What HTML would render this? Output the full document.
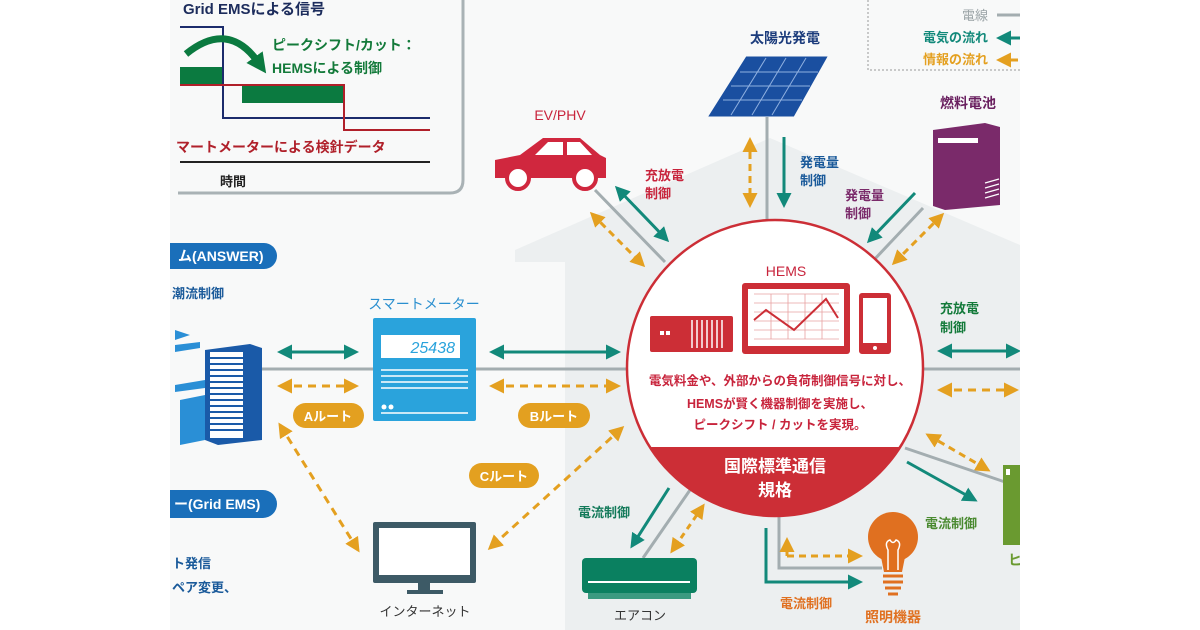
<!DOCTYPE html>
<html><head><meta charset="utf-8"><style>
html,body{margin:0;padding:0;background:#fff;}
svg{display:block;font-family:"Liberation Sans","Noto Sans CJK JP",sans-serif;font-weight:bold;}
</style></head><body>
<svg width="1200" height="630" viewBox="0 0 1200 630" xmlns="http://www.w3.org/2000/svg">
<defs>
<marker id="tt" viewBox="0 0 10 10" refX="8" refY="5" markerWidth="5" markerHeight="5" orient="auto-start-reverse"><path d="M0,0 L10,5 L0,10 z" fill="#12897a"/></marker>
<marker id="oo" viewBox="0 0 10 10" refX="8" refY="5" markerWidth="5" markerHeight="5" orient="auto-start-reverse"><path d="M0,0 L10,5 L0,10 z" fill="#e4a020"/></marker>
<marker id="gg" viewBox="0 0 10 10" refX="3" refY="5" markerWidth="20" markerHeight="20" markerUnits="userSpaceOnUse" orient="auto"><path d="M0,0 L10,5 L0,10 z" fill="#0b7a40"/></marker>
</defs>
<rect x="170" y="0" width="850" height="630" fill="#f8f9f9"/>
<path d="M515,250 L770,138 L1020,245 L1020,630 L565,630 L565,262 L515,262 Z" fill="#eceff0"/>
<path d="M178,193 L450,193 Q463,193 463,180 L463,0" fill="none" stroke="#a9b2b5" stroke-width="3"/>
<text x="183" y="14" font-size="15" fill="#1c2c5c">Grid EMSによる信号</text>
<rect x="180" y="67" width="43" height="18" fill="#0b7a40"/>
<rect x="242" y="85" width="101" height="18" fill="#0b7a40"/>
<path d="M180,27 H223 V118 H430" fill="none" stroke="#1c2c6c" stroke-width="2"/>
<path d="M180,85 H344 V130 H430" fill="none" stroke="#b0202a" stroke-width="2"/>
<path d="M186,54 Q228,20 258,62" fill="none" stroke="#0b7a40" stroke-width="7" marker-end="url(#gg)"/>
<text x="272" y="50" font-size="14" fill="#137a3a">ピークシフト/カット：</text>
<text x="272" y="73" font-size="14" fill="#137a3a">HEMSによる制御</text>
<text x="176" y="152" font-size="14" fill="#b0202a">マートメーターによる検針データ</text>
<line x1="180" y1="162" x2="430" y2="162" stroke="#222" stroke-width="2"/>
<text x="220" y="186" font-size="13" fill="#222">時間</text>
<rect x="150" y="243" width="127" height="26" rx="13" fill="#1a6fba"/>
<text x="178" y="261" font-size="14" fill="#fff">ム(ANSWER)</text>
<text x="172" y="298" font-size="13" fill="#1a5a9a">潮流制御</text>
<rect x="150" y="490" width="127" height="28" rx="14" fill="#1a6fba"/>
<text x="174" y="509" font-size="14" fill="#fff">ー(Grid EMS)</text>
<text x="172" y="568" font-size="13" fill="#1a5a9a">ト発信</text>
<text x="172" y="592" font-size="13" fill="#1a5a9a">ペア変更、</text>
<path d="M175,330 L190,335 L175,340Z M175,345 L200,342 L200,348 L175,352Z M175,385 L205,380 L205,388 L175,392Z M180,400 L205,395 L205,440 L180,445Z" fill="#2a8fd6"/>
<path d="M205,350 L250,344 L262,348 L262,440 L218,445 L205,440Z" fill="#1a5aa8"/>
<rect x="210" y="352" width="33" height="86" fill="#fff"/>
<g stroke="#1a5aa8" stroke-width="2"><line x1="210" y1="358" x2="243" y2="358"/><line x1="210" y1="364" x2="243" y2="364"/><line x1="210" y1="370" x2="243" y2="370"/><line x1="210" y1="376" x2="243" y2="376"/><line x1="210" y1="382" x2="243" y2="382"/><line x1="210" y1="388" x2="243" y2="388"/><line x1="210" y1="394" x2="243" y2="394"/><line x1="210" y1="400" x2="243" y2="400"/><line x1="210" y1="406" x2="243" y2="406"/><line x1="210" y1="412" x2="243" y2="412"/><line x1="210" y1="418" x2="243" y2="418"/><line x1="210" y1="424" x2="243" y2="424"/><line x1="210" y1="430" x2="243" y2="430"/></g>
<line x1="262" y1="369" x2="630" y2="369" stroke="#a3adb0" stroke-width="3"/>
<line x1="922" y1="369" x2="1020" y2="369" stroke="#a3adb0" stroke-width="3"/>
<text x="424" y="309" font-size="14" fill="#2a8fcf" text-anchor="middle" font-weight="normal">スマートメーター</text>
<rect x="373" y="318" width="103" height="103" rx="2" fill="#2aa3dc"/>
<rect x="381" y="335" width="79" height="23" fill="#fff"/>
<text x="455" y="353" font-size="16" fill="#2aa3dc" text-anchor="end" font-weight="normal" font-style="italic">25438</text>
<g stroke="#fff" stroke-width="1.5"><line x1="381" y1="370" x2="468" y2="370"/><line x1="381" y1="376" x2="468" y2="376"/><line x1="381" y1="382" x2="468" y2="382"/><line x1="381" y1="388" x2="468" y2="388"/><line x1="381" y1="413" x2="468" y2="413"/></g>
<circle cx="384" cy="407" r="2.5" fill="#fff"/><circle cx="391" cy="407" r="2.5" fill="#fff"/>
<g stroke="#12897a" stroke-width="3"><line x1="280" y1="352" x2="356" y2="352" marker-start="url(#tt)" marker-end="url(#tt)"/><line x1="492" y1="352" x2="618" y2="352" marker-start="url(#tt)" marker-end="url(#tt)"/><line x1="940" y1="351" x2="1018" y2="351" marker-start="url(#tt)" marker-end="url(#tt)"/></g>
<g stroke="#e4a020" stroke-width="3" stroke-dasharray="8,6"><line x1="280" y1="386" x2="356" y2="386" marker-start="url(#oo)" marker-end="url(#oo)"/><line x1="492" y1="386" x2="618" y2="386" marker-start="url(#oo)" marker-end="url(#oo)"/><line x1="940" y1="390" x2="1016" y2="390" marker-start="url(#oo)" marker-end="url(#oo)"/>
<line x1="280" y1="425" x2="358" y2="550" marker-start="url(#oo)" marker-end="url(#oo)"/>
<line x1="622" y1="428" x2="490" y2="548" marker-start="url(#oo)" marker-end="url(#oo)"/></g>
<rect x="293" y="403" width="71" height="25" rx="12.5" fill="#e3a020"/><text x="328" y="421" font-size="13" fill="#fff" text-anchor="middle">Aルート</text>
<rect x="518" y="403" width="72" height="25" rx="12.5" fill="#e3a020"/><text x="554" y="421" font-size="13" fill="#fff" text-anchor="middle">Bルート</text>
<rect x="469" y="463" width="70" height="25" rx="12.5" fill="#e3a020"/><text x="504" y="481" font-size="13" fill="#fff" text-anchor="middle">Cルート</text>
<rect x="373" y="522" width="103" height="61" rx="2" fill="#3d5a66"/><rect x="379" y="528" width="91" height="47" fill="#fff"/>
<rect x="418" y="583" width="12" height="8" fill="#3d5a66"/><rect x="407" y="590" width="36" height="4" fill="#3d5a66"/>
<text x="425" y="616" font-size="13" fill="#333" text-anchor="middle" font-weight="normal">インターネット</text>
<text x="785" y="43" font-size="14" fill="#1c3c7c" text-anchor="middle">太陽光発電</text>
<path d="M747,58 L825,58 L793,115 L711,115Z" fill="#1a4fa0" stroke="#1a4fa0" stroke-width="3"/>
<g stroke="#8fb0e0" stroke-width="1"><line x1="740" y1="72" x2="818" y2="72"/><line x1="731" y1="86" x2="810" y2="86"/><line x1="723" y1="100" x2="802" y2="100"/><line x1="766" y1="58" x2="731" y2="115"/><line x1="786" y1="58" x2="752" y2="115"/><line x1="806" y1="58" x2="772" y2="115"/></g>
<line x1="767" y1="117" x2="767" y2="222" stroke="#a3adb0" stroke-width="3"/>
<line x1="750" y1="140" x2="750" y2="205" stroke="#e4a020" stroke-width="3" stroke-dasharray="7,5" marker-start="url(#oo)" marker-end="url(#oo)"/>
<line x1="784" y1="137" x2="784" y2="205" stroke="#12897a" stroke-width="3" marker-end="url(#tt)"/>
<text x="800" y="167" font-size="13" fill="#1a5a9a">発電量</text><text x="800" y="185" font-size="13" fill="#1a5a9a">制御</text>
<text x="560" y="120" font-size="14" fill="#c8243c" text-anchor="middle" font-weight="normal">EV/PHV</text>
<path d="M495,160 L520,155 L543,138 L580,138 L600,155 L606,158 L606,178 L495,178Z" fill="#d0273e"/>
<path d="M548,142 L563,142 L563,155 L535,155Z M567,142 L580,142 L592,155 L567,155Z" fill="#fff"/>
<circle cx="518" cy="178" r="11" fill="#fff" stroke="#d0273e" stroke-width="4"/><circle cx="585" cy="178" r="11" fill="#fff" stroke="#d0273e" stroke-width="4"/>
<line x1="595" y1="190" x2="665" y2="262" stroke="#a3adb0" stroke-width="3"/>
<line x1="617" y1="188" x2="667" y2="240" stroke="#12897a" stroke-width="3" marker-start="url(#tt)" marker-end="url(#tt)"/>
<line x1="592" y1="214" x2="643" y2="265" stroke="#e4a020" stroke-width="3" stroke-dasharray="7,5" marker-start="url(#oo)" marker-end="url(#oo)"/>
<text x="645" y="180" font-size="13" fill="#c8243c">充放電</text><text x="645" y="198" font-size="13" fill="#c8243c">制御</text>
<text x="968" y="108" font-size="14" fill="#6a2060" text-anchor="middle">燃料電池</text>
<path d="M933,130 L985,123 L1000,127 L1000,205 L945,210 L933,206Z" fill="#7a2a6a"/>
<rect x="938" y="138" width="40" height="5" fill="#fff"/>
<g stroke="#fff" stroke-width="1.2"><line x1="985" y1="183" x2="999" y2="179"/><line x1="985" y1="188" x2="999" y2="184"/><line x1="985" y1="193" x2="999" y2="189"/><line x1="985" y1="198" x2="999" y2="194"/></g>
<line x1="923" y1="208" x2="872" y2="262" stroke="#a3adb0" stroke-width="3"/>
<line x1="915" y1="193" x2="869" y2="241" stroke="#12897a" stroke-width="3" marker-end="url(#tt)"/>
<line x1="942" y1="215" x2="894" y2="263" stroke="#e4a020" stroke-width="3" stroke-dasharray="7,5" marker-start="url(#oo)" marker-end="url(#oo)"/>
<text x="845" y="200" font-size="13" fill="#7a2a6a">発電量</text><text x="845" y="218" font-size="13" fill="#7a2a6a">制御</text>
<text x="940" y="313" font-size="13" fill="#137a3a">充放電</text><text x="940" y="332" font-size="13" fill="#137a3a">制御</text>
<line x1="928" y1="435" x2="988" y2="470" stroke="#e4a020" stroke-width="3" stroke-dasharray="7,5" marker-start="url(#oo)" marker-end="url(#oo)"/>
<line x1="905" y1="448" x2="1005" y2="482" stroke="#a3adb0" stroke-width="3"/>
<line x1="907" y1="462" x2="975" y2="500" stroke="#12897a" stroke-width="3" marker-end="url(#tt)"/>
<rect x="1003" y="465" width="17" height="80" fill="#6a9a30"/><rect x="1006" y="469" width="4" height="6" fill="#fff"/>
<text x="925" y="528" font-size="13" fill="#4a8a30">電流制御</text>
<text x="1008" y="565" font-size="14" fill="#6a9a30">ヒ</text>
<line x1="669" y1="488" x2="632" y2="546" stroke="#12897a" stroke-width="3" marker-end="url(#tt)"/>
<line x1="690" y1="490" x2="643" y2="558" stroke="#a3adb0" stroke-width="3"/>
<line x1="703" y1="506" x2="672" y2="551" stroke="#e4a020" stroke-width="3" stroke-dasharray="6,5" marker-start="url(#oo)" marker-end="url(#oo)"/>
<text x="578" y="517" font-size="13" fill="#137a5a">電流制御</text>
<rect x="582" y="558" width="115" height="35" rx="4" fill="#0a8060"/><rect x="588" y="593" width="103" height="6" fill="#3a9a80"/>
<line x1="588" y1="582" x2="690" y2="582" stroke="#fff" stroke-width="2"/>
<text x="640" y="620" font-size="13" fill="#333" text-anchor="middle" font-weight="normal">エアコン</text>
<path d="M779,517 V568 H882" fill="none" stroke="#a3adb0" stroke-width="3"/>
<path d="M766,528 V582 H860" fill="none" stroke="#12897a" stroke-width="3" marker-end="url(#tt)"/>
<path d="M787,556 H860" fill="none" stroke="#e4a020" stroke-width="3" stroke-dasharray="7,5" marker-end="url(#oo)"/>
<line x1="787" y1="556" x2="787" y2="540" stroke="#e4a020" stroke-width="3" stroke-dasharray="5,4" marker-end="url(#oo)"/>
<circle cx="893" cy="537" r="25" fill="#e07020"/><path d="M880,552 L906,552 L902,572 L884,572Z" fill="#e07020"/>
<path d="M888,570 L888,550 Q884,542 890,540 Q893,545 896,540 Q902,542 898,550 L898,570" fill="none" stroke="#fff" stroke-width="1.5"/>
<g stroke="#e07020" stroke-width="3"><line x1="883" y1="576" x2="903" y2="576"/><line x1="883" y1="582" x2="903" y2="582"/><line x1="885" y1="588" x2="901" y2="588"/><line x1="888" y1="594" x2="898" y2="594"/></g>
<text x="780" y="608" font-size="13" fill="#e07020">電流制御</text>
<text x="893" y="622" font-size="14" fill="#e07020" text-anchor="middle">照明機器</text>
<defs><clipPath id="cc"><circle cx="775" cy="368" r="148"/></clipPath></defs>
<circle cx="775" cy="368" r="148" fill="#fff"/>
<rect x="620" y="447" width="320" height="80" fill="#cc2e36" clip-path="url(#cc)"/>
<circle cx="775" cy="368" r="148" fill="none" stroke="#cc2e36" stroke-width="2.5"/>
<text x="786" y="276" font-size="14" fill="#c8243c" text-anchor="middle" font-weight="normal">HEMS</text>
<rect x="650" y="316" width="83" height="36" rx="2" fill="#cc2e36"/>
<rect x="660" y="331" width="4" height="4" fill="#fff"/><rect x="666" y="331" width="4" height="4" fill="#fff"/>
<g stroke="#fff" stroke-width="1.5"><line x1="692" y1="320" x2="692" y2="348"/><line x1="697" y1="320" x2="697" y2="348"/><line x1="702" y1="320" x2="702" y2="348"/><line x1="707" y1="320" x2="707" y2="348"/><line x1="712" y1="320" x2="712" y2="348"/><line x1="717" y1="320" x2="717" y2="348"/><line x1="722" y1="320" x2="722" y2="348"/></g>
<rect x="742" y="283" width="108" height="71" rx="3" fill="#cc2e36"/><rect x="748" y="289" width="96" height="57" fill="#fff"/>
<g stroke="#e8a0a0" stroke-width="0.8"><line x1="754" y1="294" x2="839" y2="294"/><line x1="754" y1="303" x2="839" y2="303"/><line x1="754" y1="312" x2="839" y2="312"/><line x1="754" y1="321" x2="839" y2="321"/><line x1="754" y1="330" x2="839" y2="330"/><line x1="754" y1="339" x2="839" y2="339"/><line x1="771" y1="294" x2="771" y2="339"/><line x1="788" y1="294" x2="788" y2="339"/><line x1="805" y1="294" x2="805" y2="339"/><line x1="822" y1="294" x2="822" y2="339"/></g>
<polyline points="754,320 766,310 794,330 826,299 838,318" fill="none" stroke="#cc2e36" stroke-width="2"/>
<rect x="859" y="293" width="32" height="61" rx="3" fill="#cc2e36"/><rect x="863" y="298" width="24" height="45" fill="#fff"/><circle cx="875" cy="348" r="2" fill="#fff"/>
<g font-size="12.5" fill="#c8243c" text-anchor="middle"><text x="780" y="385">電気料金や、外部からの負荷制御信号に対し、</text><text x="780" y="408">HEMSが賢く機器制御を実施し、</text><text x="780" y="429">ピークシフト / カットを実現。</text></g>
<text x="775" y="472" font-size="17" fill="#fff" text-anchor="middle">国際標準通信</text>
<text x="775" y="496" font-size="17" fill="#fff" text-anchor="middle">規格</text>
<path d="M868,0 V70 H1020" fill="none" stroke="#999" stroke-width="1" stroke-dasharray="2,2"/>
<g font-size="13" text-anchor="end"><text x="988" y="20" fill="#9aa3a6" font-weight="normal">電線</text><text x="988" y="42" fill="#12897a">電気の流れ</text><text x="988" y="64" fill="#e4a020">情報の流れ</text></g>
<line x1="997" y1="15" x2="1020" y2="15" stroke="#a3adb0" stroke-width="3"/>
<line x1="999" y1="38" x2="1020" y2="38" stroke="#12897a" stroke-width="3" marker-start="url(#tt)"/>
<line x1="999" y1="60" x2="1020" y2="60" stroke="#e4a020" stroke-width="3" stroke-dasharray="7,5" marker-start="url(#oo)"/>
<rect x="0" y="0" width="170" height="630" fill="#fff"/>
<rect x="1020" y="0" width="180" height="630" fill="#fff"/>
</svg>
</body></html>
